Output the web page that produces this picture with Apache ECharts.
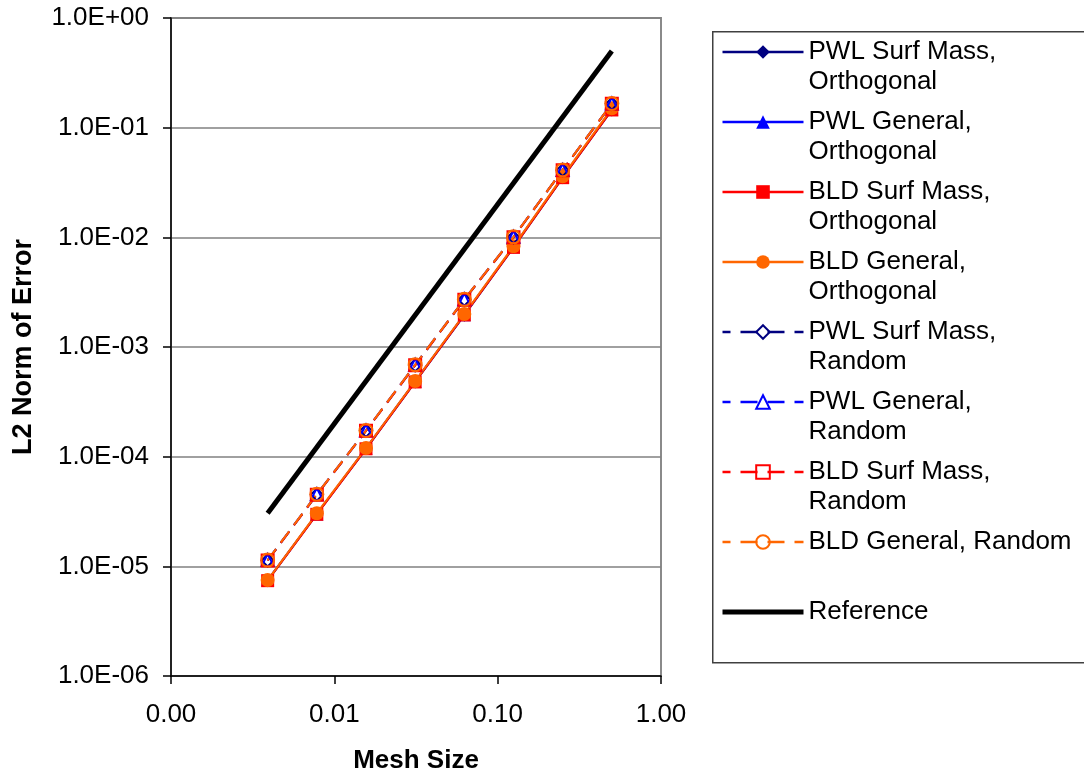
<!DOCTYPE html>
<html>
<head>
<meta charset="utf-8">
<script src="https://cdn.jsdelivr.net/npm/echarts@6/dist/echarts.min.js"></script>
<style>
  html, body { margin: 0; padding: 0; background: #fff; }
  #chart { width: 1084px; height: 775px; }
</style>
</head>
<body>
<div id="chart"></div>
<script>
// ---- data ----
const meshSize = [0.00390625, 0.0078125, 0.015625, 0.03125, 0.0625, 0.125, 0.25, 0.5];
const pwlSurfOrth = [7.4e-6, 3.0e-5, 1.18e-4, 4.8e-4, 1.95e-3, 8.1e-3, 3.5e-2, 1.45e-1];
const pwlGenOrth  = [7.5e-6, 3.0e-5, 1.19e-4, 4.85e-4, 1.97e-3, 8.2e-3, 3.55e-2, 1.47e-1];
const bldSurfOrth = [7.4e-6, 2.98e-5, 1.18e-4, 4.8e-4, 1.96e-3, 8.1e-3, 3.5e-2, 1.45e-1];
const bldGenOrth  = [7.5e-6, 3.05e-5, 1.2e-4, 4.9e-4, 2.0e-3, 8.3e-3, 3.6e-2, 1.5e-1];
const pwlSurfRand = [1.13e-5, 4.5e-5, 1.72e-4, 6.8e-4, 2.7e-3, 1.0e-2, 4.1e-2, 1.65e-1];
const pwlGenRand  = [1.14e-5, 4.55e-5, 1.73e-4, 6.9e-4, 2.72e-3, 1.01e-2, 4.12e-2, 1.66e-1];
const bldSurfRand = [1.13e-5, 4.5e-5, 1.72e-4, 6.8e-4, 2.7e-3, 1.0e-2, 4.1e-2, 1.65e-1];
const bldGenRand  = [1.14e-5, 4.55e-5, 1.73e-4, 6.9e-4, 2.72e-3, 1.01e-2, 4.12e-2, 1.66e-1];
const refMesh = [0.00390625, 0.5];
const refError = [3.05e-5, 0.5];

const seriesNames = [
  'PWL Surf Mass, Orthogonal', 'PWL General, Orthogonal',
  'BLD Surf Mass, Orthogonal', 'BLD General, Orthogonal',
  'PWL Surf Mass, Random', 'PWL General, Random',
  'BLD Surf Mass, Random', 'BLD General, Random', 'Reference'
];
const legendLines = [
  ['PWL Surf Mass,', 'Orthogonal'], ['PWL General,', 'Orthogonal'],
  ['BLD Surf Mass,', 'Orthogonal'], ['BLD General,', 'Orthogonal'],
  ['PWL Surf Mass,', 'Random'], ['PWL General,', 'Random'],
  ['BLD Surf Mass,', 'Random'], ['BLD General, Random', ' '], ['Reference', ' ']
];
const xTickLabels = ['0.00', '0.01', '0.10', '1.00'];       // 1e-3 .. 1e0
const yTickLabels = ['1.0E-06', '1.0E-05', '1.0E-04', '1.0E-03', '1.0E-02', '1.0E-01', '1.0E+00'];
const xTitle = 'Mesh Size';
const yTitle = 'L2 Norm of Error';

// ---- build ----
const FONT = "'Liberation Sans', Arial, sans-serif";
const pair = (xs, ys) => xs.map((x, i) => [x, ys[i]]);

const styles = [
  { c: '#000080', sym: 'diamond',  size: 13, filled: true,  dash: 'solid' },
  { c: '#0000FF', sym: 'triangle', size: 13, filled: true,  dash: 'solid' },
  { c: '#FF0000', sym: 'rect',     size: 13, filled: true,  dash: 'solid' },
  { c: '#FF6600', sym: 'circle',   size: 14, filled: true,  dash: 'solid' },
  { c: '#000080', sym: 'diamond',  size: 12, filled: false, dash: [14, 8] },
  { c: '#0000FF', sym: 'triangle', size: 12, filled: false, dash: [14, 8] },
  { c: '#FF0000', sym: 'rect',     size: 12, filled: false, dash: [14, 8] },
  { c: '#FF6600', sym: 'circle',   size: 13, filled: false, dash: [14, 8] }
];
const dataSets = [pwlSurfOrth, pwlGenOrth, bldSurfOrth, bldGenOrth,
                  pwlSurfRand, pwlGenRand, bldSurfRand, bldGenRand];

const series = dataSets.map((ys, i) => {
  const s = styles[i];
  return {
    name: seriesNames[i],
    type: 'line',
    data: pair(meshSize, ys),
    symbol: s.sym,
    symbolSize: s.size,
    lineStyle: { color: s.c, width: 2, type: s.dash },
    itemStyle: s.filled
      ? { color: s.c, borderColor: s.c, borderWidth: 0 }
      : { color: 'rgba(255,255,255,0)', borderColor: s.c, borderWidth: 2 },
    emphasis: { disabled: true },
    animation: false
  };
});
series.push({
  name: seriesNames[8],
  type: 'line',
  data: pair(refMesh, refError),
  symbol: 'none',
  lineStyle: { color: '#000', width: 5 },
  itemStyle: { color: 'rgba(0,0,0,0)', borderWidth: 0 },
  emphasis: { disabled: true },
  animation: false
});

const legendData = seriesNames.map((n, i) => {
  if (i === 8) {
    return { name: n, lineStyle: { width: 5, color: '#000' },
             itemStyle: { color: 'rgba(0,0,0,0)', borderWidth: 0, opacity: 0 } };
  }
  const s = styles[i];
  return { name: n, lineStyle: { width: 2.5, color: s.c,
           type: s.dash === 'solid' ? 'solid' : [17, 10], dashOffset: 9 } };
});

const expIndex = v => Math.round(Math.log10(v));

const option = {
  backgroundColor: '#fff',
  animation: false,
  grid: { left: 171, right: 423, top: 18, bottom: 99, show: true,
          containLabel: false, outerBoundsMode: 'none',
          borderColor: '#8a8a8a', borderWidth: 2, backgroundColor: 'transparent' },
  xAxis: {
    type: 'log', logBase: 10, min: 0.001, max: 1,
    name: xTitle, nameLocation: 'middle', nameGap: 72,
    nameTextStyle: { fontFamily: FONT, fontSize: 26, fontWeight: 'bold', color: '#000' },
    axisLine: { show: true, lineStyle: { color: '#000', width: 1.5 } },
    axisTick: { show: true, length: 8, lineStyle: { color: '#000', width: 1.5 } },
    axisLabel: { fontFamily: FONT, fontSize: 26, color: '#000', margin: 26,
                 formatter: v => xTickLabels[expIndex(v) + 3] },
    splitLine: { show: false },
    minorTick: { show: false }
  },
  yAxis: {
    type: 'log', logBase: 10, min: 1e-6, max: 1,
    name: yTitle, nameLocation: 'middle', nameGap: 134,
    nameTextStyle: { fontFamily: FONT, fontSize: 27, fontWeight: 'bold', color: '#000' },
    axisLine: { show: true, lineStyle: { color: '#000', width: 1.5 } },
    axisTick: { show: true, length: 8, lineStyle: { color: '#000', width: 1.5 } },
    axisLabel: { fontFamily: FONT, fontSize: 26, color: '#000', margin: 22,
                 formatter: v => yTickLabels[expIndex(v) + 6] },
    splitLine: { show: true, lineStyle: { color: '#808080', width: 1.5 } }
  },
  legend: {
    orient: 'vertical',
    left: 720, top: 7,
    padding: 0,
    itemGap: -20,
    itemWidth: 81, itemHeight: 17,
    selectedMode: false,
    data: legendData,
    formatter: name => ' \n' + legendLines[seriesNames.indexOf(name)].join('\n'),
    textStyle: { fontFamily: FONT, fontSize: 26, color: '#000', lineHeight: 30 }
  },
  graphic: [{
    type: 'rect', left: 712, top: 31, silent: true, z: -1,
    shape: { width: 400, height: 631 },
    style: { fill: 'transparent', stroke: '#404040', lineWidth: 1.5 }
  }],
  series: series
};

const chart = echarts.init(document.getElementById('chart'), null, { renderer: 'canvas' });
chart.setOption(option);
</script>
</body>
</html>
